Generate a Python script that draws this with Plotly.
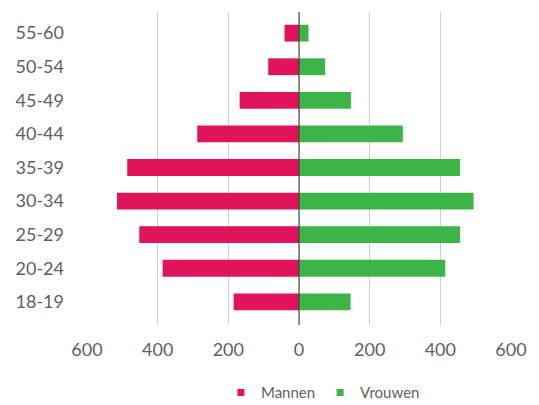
import plotly.graph_objects as go

age_groups = ["18-19", "20-24", "25-29", "30-34", "35-39", "40-44", "45-49", "50-54", "55-60"]
mannen = [185, 386, 452, 515, 486, 288, 168, 87, 41]
vrouwen = [146, 414, 456, 494, 456, 294, 147, 74, 27]
tick_vals = [-600, -400, -200, 0, 200, 400, 600]
tick_text = ["600", "400", "200", "0", "200", "400", "600"]

PINK = "#E0135C"
GREEN = "#3DB447"
FONT = "Lato"
TXT = "#5f5f5f"

fig = go.Figure()
fig.add_trace(go.Bar(y=age_groups, x=[-v for v in mannen], orientation="h",
                     marker=dict(color=PINK, line=dict(width=0)), name="Mannen",
                     showlegend=False))
fig.add_trace(go.Bar(y=age_groups, x=vrouwen, orientation="h",
                     marker=dict(color=GREEN, line=dict(width=0)), name="Vrouwen",
                     showlegend=False))
# legend entries with small square markers
fig.add_trace(go.Scatter(x=[None], y=[None], mode="markers", name="Mannen",
                         marker=dict(symbol="square", size=7, color=PINK)))
fig.add_trace(go.Scatter(x=[None], y=[None], mode="markers", name="Vrouwen",
                         marker=dict(symbol="square", size=7, color=GREEN)))

fig.add_shape(type="line", xref="x", yref="paper", x0=0, x1=0, y0=0, y1=1,
              line=dict(color="#333333", width=1), layer="above")

# page body has an 8px default margin; size the figure to fit the 539x405 window
fig.update_layout(
    width=531, height=397,
    margin=dict(l=79, r=27.5, t=3.7, b=80, autoexpand=False),
    paper_bgcolor="white", plot_bgcolor="white",
    barmode="relative", bargap=0.5,
    font=dict(family=FONT, color=TXT, size=18),
    showlegend=True,
    legend=dict(orientation="h", xref="container", yref="container",
                x=0.401, xanchor="left", y=0.031, yanchor="middle",
                font=dict(size=15, color=TXT, family=FONT), itemwidth=30,
                bgcolor="rgba(0,0,0,0)"),
    xaxis=dict(range=[-600, 600], tickvals=tick_vals, ticktext=tick_text,
               showgrid=True, gridcolor="#cfcfcf", gridwidth=1, zeroline=False,
               showline=False, ticks="", tickfont=dict(size=18, color=TXT, family=FONT),
               ticklabelstandoff=12, automargin=False, fixedrange=True),
    yaxis=dict(range=[-0.69, 8.63], showgrid=False, zeroline=False, showline=False,
               ticks="", tickfont=dict(size=18, color=TXT, family=FONT),
               ticklabelstandoff=22, automargin=False, fixedrange=True),
)

fig.write_html("out.html")
